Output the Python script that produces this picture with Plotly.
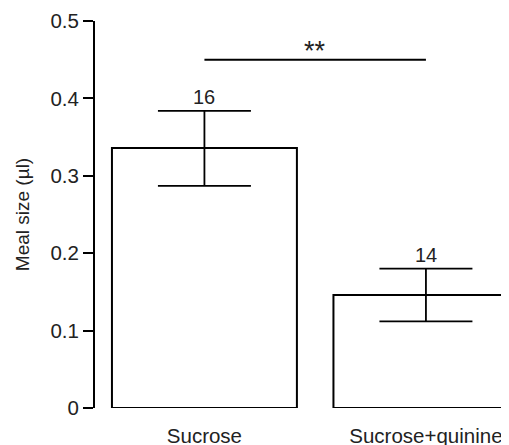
import plotly.graph_objects as go

categories = ["Sucrose", "Sucrose+quinine"]
means = [0.336, 0.146]
err_plus = [0.048, 0.034]
err_minus = [0.049, 0.034]
n_labels = ["16", "14"]
sig_text = "**"
sig_level = 0.45
y_ticks = [0, 0.1, 0.2, 0.3, 0.4, 0.5]
y_ticktext = ["0", "0.1", "0.2", "0.3", "0.4", "0.5"]

FONT = "Liberation Sans, Arial, Helvetica, sans-serif"
TXT = "#222222"
xpos = list(range(len(categories)))

fig = go.Figure()
fig.add_trace(go.Bar(
    x=xpos, y=means, width=0.835,
    marker=dict(color="white", line=dict(color="black", width=2)),
    error_y=dict(type="data", symmetric=False, array=err_plus, arrayminus=err_minus,
                 color="black", thickness=1.8, width=46.5),
    showlegend=False, hoverinfo="skip",
))

for xi, m, ep, lab in zip(xpos, means, err_plus, n_labels):
    fig.add_annotation(x=xi, y=m + ep, text=lab, showarrow=False, xref="x", yref="y",
                       yanchor="bottom", yshift=1, font=dict(family=FONT, size=20, color=TXT))

fig.add_shape(type="line", xref="x", yref="y", x0=xpos[0], x1=xpos[1], y0=sig_level, y1=sig_level,
              line=dict(color="black", width=2))
fig.add_annotation(x=(xpos[0] + xpos[1]) / 2, y=sig_level, text=sig_text, showarrow=False,
                   xref="x", yref="y", yanchor="bottom", yshift=-8,
                   font=dict(family=FONT, size=27, color=TXT))

# page body has an 8px offset; compensate so plot area lands at page x 95..509, y 21..408
fig.update_layout(
    width=501, height=437,
    margin=dict(l=87, r=0, t=13, b=37, pad=0),
    plot_bgcolor="white", paper_bgcolor="white",
    font=dict(family=FONT, size=20, color=TXT),
    xaxis=dict(range=[-0.494, 1.375], tickmode="array", tickvals=xpos, ticktext=categories,
               showline=False, showgrid=False, zeroline=False, ticks="outside", ticklen=9,
               tickcolor="rgba(0,0,0,0)", tickfont=dict(family=FONT, size=20.5, color=TXT),
               automargin=False, fixedrange=True),
    yaxis=dict(range=[0, 0.5], tickmode="array", tickvals=y_ticks, ticktext=y_ticktext,
               showline=True, linecolor="black", linewidth=2, showgrid=False, zeroline=False,
               ticks="outside", ticklen=10, tickwidth=2, tickcolor="black",
               tickfont=dict(family=FONT, size=20.5, color=TXT),
               title=dict(text="Meal size (µl)", font=dict(family=FONT, size=19, color=TXT), standoff=16),
               automargin=False, fixedrange=True),
)

fig.write_html("out.html")
